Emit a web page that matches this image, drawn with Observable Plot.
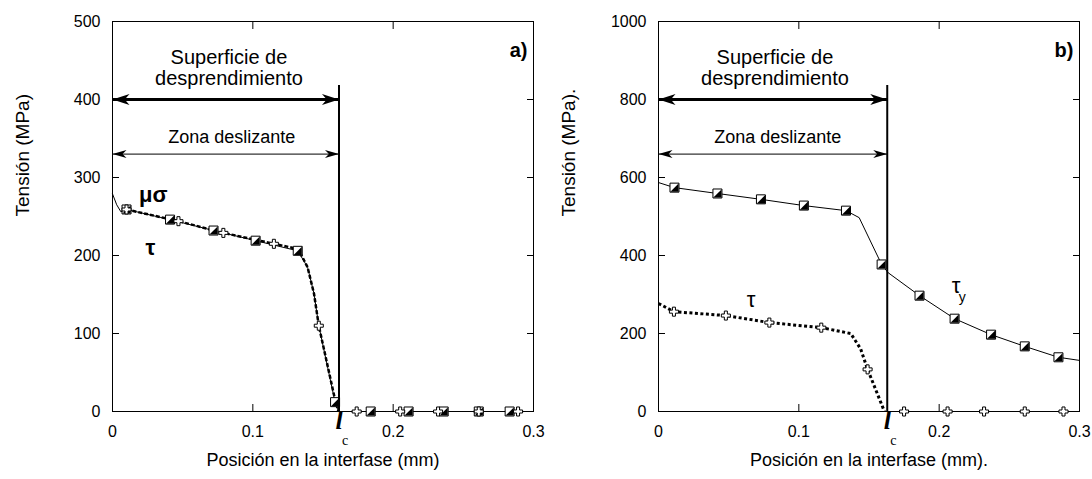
<!DOCTYPE html>
<html>
<head>
<meta charset="utf-8">
<script src="https://cdn.jsdelivr.net/npm/d3@7"></script>
<script src="https://cdn.jsdelivr.net/npm/@observablehq/plot@0.6"></script>
<style>
  html, body { margin: 0; padding: 0; background: white; }
  #wrap { display: flex; width: 1092px; height: 479px; }
</style>
</head>
<body>
<div id="wrap"></div>
<script>
// ---------- shared ticks ----------
const xTicks = [0, 0.1, 0.2, 0.3];
const xInnerTicks = [0.1, 0.2];
const aYTicks = [0, 100, 200, 300, 400, 500];
const aYInner = [100, 200, 300, 400];
const bYTicks = [0, 200, 400, 600, 800, 1000];
const bYInner = [200, 400, 600, 800];

// ---------- panel a ----------
const aLc = 0.1614;
const aLcTop = 418;
const aArrowThick = 400, aArrowThin = 330;
// mu*sigma (thin line, half-filled squares)
const aMuX = [0, 0.003, 0.006, 0.010, 0.041, 0.072, 0.102, 0.132, 0.139, 0.1436, 0.147, 0.1586, 0.161, 0.184, 0.211, 0.236, 0.261, 0.283, 0.3];
const aMuY = [279, 265, 256, 259, 246, 232, 219, 206, 185, 151, 110, 12, 0, 0, 0, 0, 0, 0, 0];
const aMuMarkX = [0.010, 0.041, 0.072, 0.102, 0.132, 0.1586, 0.184, 0.211, 0.236, 0.261, 0.283];
const aMuMarkY = [259, 246, 232, 219, 206, 12, 0, 0, 0, 0, 0];
// tau (dashed thick line, plus markers)
const aTauX = [0.010, 0.047, 0.079, 0.115, 0.128, 0.133, 0.139, 0.1436, 0.147, 0.1586, 0.161];
const aTauY = [259, 244, 229, 215, 210, 206, 185, 151, 110, 15, 0];
const aTauMarkX = [0.010, 0.047, 0.079, 0.115, 0.147, 0.174, 0.205, 0.232, 0.261, 0.289];
const aTauMarkY = [259, 244, 229, 215, 110, 0, 0, 0, 0, 0];

// ---------- panel b ----------
const bLc = 0.163;
const bLcTop = 836;
const bArrowThick = 800, bArrowThin = 660;
// tau_y (thin line, half-filled squares)
const bTyX = [0, 0.0114, 0.042, 0.073, 0.1036, 0.1336, 0.143, 0.159, 0.1636, 0.186, 0.211, 0.237, 0.261, 0.285, 0.3];
const bTyY = [587, 574, 559, 544, 528, 515, 497, 377, 356, 297, 238, 197, 167, 139, 131];
const bTyMarkX = [0.0114, 0.042, 0.073, 0.1036, 0.1336, 0.159, 0.186, 0.211, 0.237, 0.261, 0.285];
const bTyMarkY = [574, 559, 544, 528, 515, 377, 297, 238, 197, 167, 139];
// tau (dotted line, plus markers)
const bTauX = [0, 0.011, 0.048, 0.079, 0.116, 0.137, 0.144, 0.149, 0.156, 0.161];
const bTauY = [277, 256, 246, 228, 215, 200, 161, 108, 45, 0];
const bTauMarkX = [0.011, 0.048, 0.079, 0.116, 0.149, 0.175, 0.206, 0.232, 0.261, 0.2886];
const bTauMarkY = [256, 246, 228, 215, 108, 0, 0, 0, 0, 0];

// ---------- texts ----------
const noteTop = "Superficie de";
const noteBottom = "desprendimiento";
const noteZone = "Zona deslizante";
const aYLabel = "Tensión (MPa)";
const bYLabel = "Tensión (MPa).";
const aXLabel = "Posición en la interfase (mm)";
const bXLabel = "Posición en la interfase (mm).";

// ---------- helpers ----------
const zip = (xs, ys) => xs.map((x, i) => ({x, y: ys[i]}));

// custom symbols
const triBR = {draw(ctx, size) { const s = Math.sqrt(size) / 2; ctx.moveTo(s, -s); ctx.lineTo(s, s); ctx.lineTo(-s, s); ctx.closePath(); }};
function arrowHead(len, half, dir) {
  return {draw(ctx) {
    ctx.moveTo(0, 0);
    ctx.lineTo(-dir * len, -half);
    ctx.lineTo(-dir * len * 0.72, 0);
    ctx.lineTo(-dir * len, half);
    ctx.closePath();
  }};
}
const headThickR = arrowHead(17, 5.5, 1), headThickL = arrowHead(17, 5.5, -1);
const headThinR = arrowHead(14, 4, 1), headThinL = arrowHead(14, 4, -1);

function halfSquares(data) {
  return [
    Plot.dot(data, {x: "x", y: "y", symbol: "square", r: 5.08, fill: "white", stroke: "black", strokeWidth: 1}),
    Plot.dot(data, {x: "x", y: "y", symbol: triBR, r: 4.6, fill: "black", stroke: "none"})
  ];
}
function pluses(data) {
  return Plot.dot(data, {x: "x", y: "y", symbol: "cross", r: 3.8, fill: "white", stroke: "black", strokeWidth: 1});
}

function panel(cfg) {
  const {yDomain, yTicks, yInner, lc, lcTop, thickY, thinY, yNotes, xLabel, yLabel, letter, series} = cfg;
  return Plot.plot({
    width: 546, height: 479,
    marginLeft: 112, marginRight: 13, marginTop: 21, marginBottom: 68,
    x: {domain: [0, 0.3]},
    y: {domain: yDomain},
    style: {fontFamily: "'Liberation Sans', Arial, sans-serif", fontSize: "16px", color: "black", background: "white", overflow: "visible"},
    marks: [
      // inward ticks
      Plot.axisX(xInnerTicks, {anchor: "bottom", tickSize: -7, tickFormat: () => "", label: null}),
      Plot.axisX(xInnerTicks, {anchor: "top", tickSize: -7, tickFormat: () => "", label: null}),
      Plot.axisY(yInner, {anchor: "left", tickSize: -7, tickFormat: () => "", label: null}),
      Plot.axisY(yInner, {anchor: "right", tickSize: -7, tickFormat: () => "", label: null}),
      // tick labels
      Plot.axisX(xTicks, {anchor: "bottom", tickSize: 0, tickPadding: 14, tickFormat: d => String(d), label: null, fontSize: 16}),
      Plot.axisY(yTicks, {anchor: "left", tickSize: 0, tickPadding: 12, tickFormat: d => String(d), label: null, fontSize: 16}),
      Plot.frame({stroke: "black", strokeWidth: 1}),
      // series
      ...series,
      // l_c rule
      Plot.ruleX([lc], {y1: yDomain[0], y2: lcTop, stroke: "black", strokeWidth: 2}),
      // arrows
      Plot.link([{a: 0, b: lc, y: thickY}], {x1: "a", x2: "b", y1: "y", y2: "y", stroke: "black", strokeWidth: 3}),
      Plot.dot([{x: lc, y: thickY}], {x: "x", y: "y", symbol: headThickR, fill: "black", stroke: "none"}),
      Plot.dot([{x: 0, y: thickY}], {x: "x", y: "y", symbol: headThickL, fill: "black", stroke: "none"}),
      Plot.link([{a: 0, b: lc, y: thinY}], {x1: "a", x2: "b", y1: "y", y2: "y", stroke: "black", strokeWidth: 1}),
      Plot.dot([{x: lc, y: thinY}], {x: "x", y: "y", symbol: headThinR, fill: "black", stroke: "none"}),
      Plot.dot([{x: 0, y: thinY}], {x: "x", y: "y", symbol: headThinL, fill: "black", stroke: "none"}),
      // notes
      Plot.text([noteTop], {x: 0.083, y: yNotes[0], text: d => d, fontSize: 20}),
      Plot.text([noteBottom], {x: 0.083, y: yNotes[1], text: d => d, fontSize: 20}),
      Plot.text([noteZone], {x: 0.085, y: yNotes[2], text: d => d, fontSize: 18}),
      // panel letter
      Plot.text([letter], {frameAnchor: "top-right", dx: -6, dy: 21, textAnchor: "end", text: d => d, fontSize: 20, fontWeight: "bold"}),
      // l_c label
      Plot.text(["l"], {x: lc, frameAnchor: "bottom", dy: 17, text: d => d, fontFamily: "'Liberation Serif', serif", fontStyle: "italic", fontWeight: "bold", fontSize: 26}),
      Plot.text(["c"], {x: lc, frameAnchor: "bottom", dx: 6, dy: 33, text: d => d, fontFamily: "'Liberation Serif', serif", fontSize: 14}),
      // axis labels
      Plot.text([xLabel], {frameAnchor: "bottom", dy: 54, text: d => d, fontSize: 18}),
      Plot.text([yLabel], {frameAnchor: "left", dx: -90, rotate: -90, text: d => d, fontSize: 19}),
      ...cfg.extra
    ]
  });
}

const aPlot = panel({
  yDomain: [0, 500], yTicks: aYTicks, yInner: aYInner, lc: aLc, lcTop: aLcTop,
  thickY: aArrowThick, thinY: aArrowThin, yNotes: [454, 427, 351],
  xLabel: aXLabel, yLabel: aYLabel, letter: "a)",
  series: [
    Plot.line(zip(aMuX, aMuY), {x: "x", y: "y", stroke: "black", strokeWidth: 1}),
    Plot.line(zip(aTauX, aTauY), {x: "x", y: "y", stroke: "black", strokeWidth: 2.5, strokeDasharray: "4,2", strokeLinecap: "butt"}),
    ...halfSquares(zip(aMuMarkX, aMuMarkY)),
    pluses(zip(aTauMarkX, aTauMarkY))
  ],
  extra: [
    Plot.text(["μσ"], {x: 0.029, y: 277, text: d => d, fontSize: 22, fontWeight: "bold"}),
    Plot.text(["τ"], {x: 0.027, y: 210, text: d => d, fontSize: 22, fontWeight: "bold"})
  ]
});

const bPlot = panel({
  yDomain: [0, 1000], yTicks: bYTicks, yInner: bYInner, lc: bLc, lcTop: bLcTop,
  thickY: bArrowThick, thinY: bArrowThin, yNotes: [908, 854, 703],
  xLabel: bXLabel, yLabel: bYLabel, letter: "b)",
  series: [
    Plot.line(zip(bTyX, bTyY), {x: "x", y: "y", stroke: "black", strokeWidth: 1}),
    Plot.line(zip(bTauX, bTauY), {x: "x", y: "y", stroke: "black", strokeWidth: 3, strokeDasharray: "3,2.5", strokeLinecap: "butt"}),
    ...halfSquares(zip(bTyMarkX, bTyMarkY)),
    pluses(zip(bTauMarkX, bTauMarkY))
  ],
  extra: [
    Plot.text(["τ"], {x: 0.066, y: 285, text: d => d, fontSize: 22}),
    Plot.text(["τ"], {x: 0.212, y: 323, text: d => d, fontSize: 22}),
    Plot.text(["y"], {x: 0.2165, y: 292, text: d => d, fontSize: 14})
  ]
});

const wrap = document.getElementById("wrap");
wrap.appendChild(aPlot);
wrap.appendChild(bPlot);
</script>
</body>
</html>
